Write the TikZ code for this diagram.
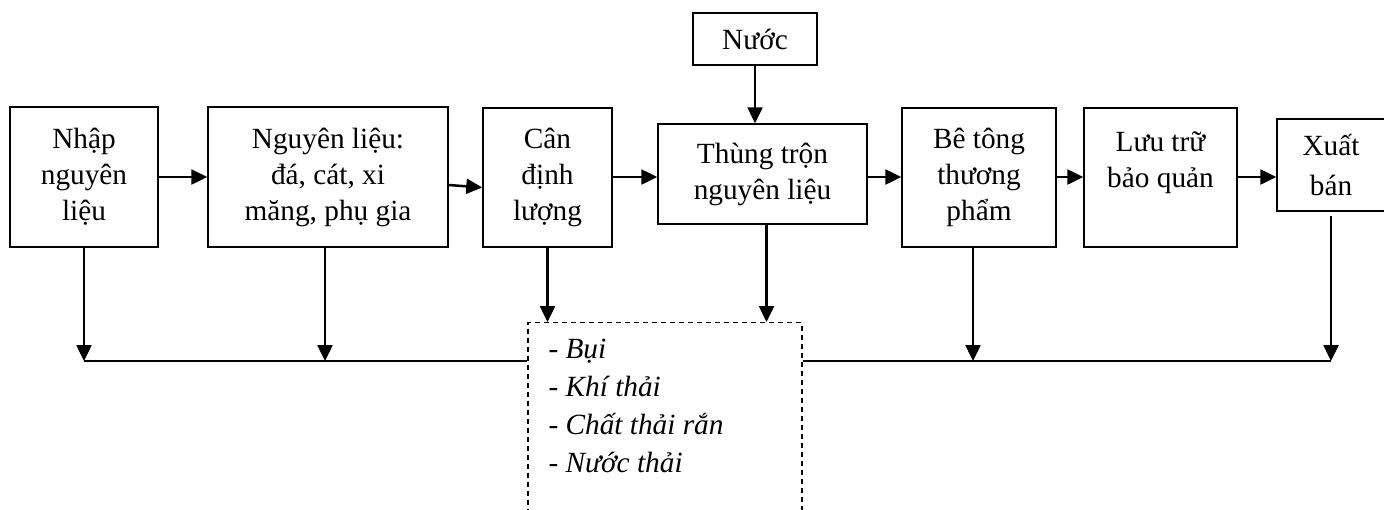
\documentclass[tikz,border=0pt]{standalone}
\usepackage{fontspec}
\setmainfont{Liberation Serif}
\usetikzlibrary{arrows.meta}

\tikzset{
    stage/.style={draw, line width=1.5pt, inner sep=0pt, align=center,
        font=\fontsize{29.3}{36}\selectfont},
    flow/.style={line width=2.5pt, -{Triangle[length=16pt,width=15pt]}},
    wire/.style={line width=2.5pt},
    waste/.style={draw, line width=1.4pt, dash pattern=on 5pt off 4pt},
}

\begin{document}
\begin{tikzpicture}[x=1pt, y=-1pt]
    \clip (0,0) rectangle (1384,509);

    % main line of stages
    \node[stage, minimum width=148pt, minimum height=140pt] (nhap) at (84,177) {Nhập\\nguyên\\liệu};
    \node[stage, minimum width=240pt, minimum height=140pt] (nglieu) at (328,177) {Nguyên liệu:\\đá, cát, xi\\măng, phụ gia};
    \node[stage, minimum width=129pt, minimum height=139pt] (can) at (547.5,177.5) {Cân\\định\\lượng};
    \node[stage, minimum width=209pt, minimum height=100pt] (thung) at (762.5,174) {Thùng trộn\\nguyên liệu};
    \node[stage, minimum width=124pt, minimum height=52pt] (nuoc) at (755,39) {Nước};
    \node[stage, minimum width=154pt, minimum height=139pt] (betong) at (979,177.5) {Bê tông\\thương\\phẩm};
    \node[stage, minimum width=153pt, minimum height=139pt] (luutru) at (1160.5,177.5) {Lưu trữ\\bảo quản\\\mbox{}};
    \node[stage, minimum width=108pt, minimum height=92pt,
        font=\fontsize{29.3}{40}\selectfont] (xuat) at (1331,165) {Xuất\\bán};

    % waste box, open at the bottom
    \node[waste, minimum width=274pt, minimum height=220pt, anchor=north] (thai) at (665,322) {};
    \node[anchor=north west, align=left, inner sep=0pt,
        font=\fontsize{29.3}{38}\selectfont] (thaitext)
        at ([xshift=21pt,yshift=-17pt]thai.north west)
        {- \textit{Bụi}\\- \textit{Khí thải}\\- \textit{Chất thải rắn}\\- \textit{Nước thải}};

    \foreach \a/\b in {nhap/nglieu, can/thung, thung/betong, betong/luutru, luutru/xuat}
        \draw[flow] (\a.east |- nhap) -- (\b.west |- nhap);
    \draw[flow] ([yshift=-8pt]nglieu.east) -- ([yshift=-10pt]can.west);
    \draw[flow] (nuoc.south) -- (nuoc.south |- thung.north);

    % drops to the collecting line
    \coordinate (bl) at (0,361);
    \foreach \s/\dx in {nhap/0, nglieu/-3, betong/-6}
        \draw[flow] ([xshift=\dx pt]\s.south) coordinate (d) -- (d |- bl);
    \foreach \s/\dx in {can/0, thung/4}
        \draw[flow] ([xshift=\dx pt]\s.south) coordinate (d) -- (d |- thai.north);
    \draw[flow] ([yshift=-4pt]xuat.south) -- (xuat.south |- bl);

    \draw[wire] (nhap.south |- bl) -- (bl -| thai.west);
    \draw[wire] (bl -| thai.east) -- (xuat.south |- bl);
\end{tikzpicture}
\end{document}
